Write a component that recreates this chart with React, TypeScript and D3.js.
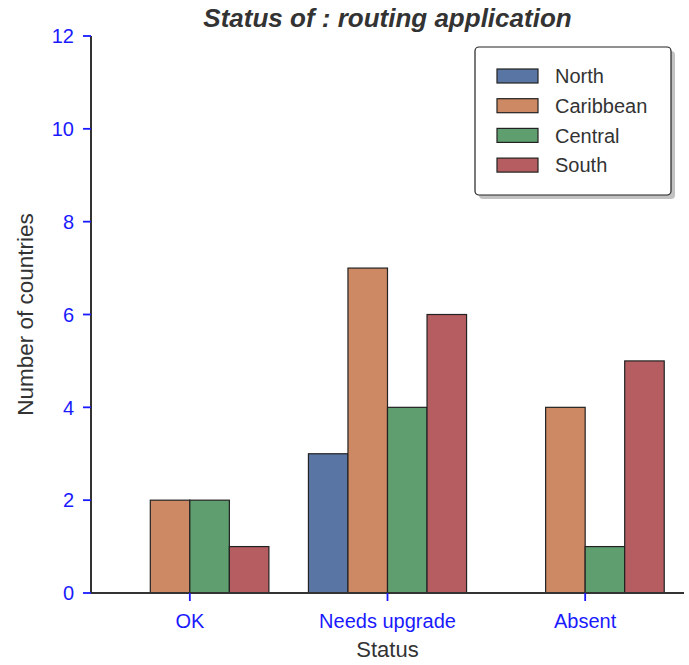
import React from "react";
import * as d3 from "d3";

const categories = ["OK", "Needs upgrade", "Absent"];
const regions = ["North", "Caribbean", "Central", "South"];
const northValues = [0, 3, 0];
const caribbeanValues = [2, 7, 4];
const centralValues = [2, 4, 1];
const southValues = [1, 6, 5];
const yTicks = [0, 2, 4, 6, 8, 10, 12];
const colors = ["#5975A4", "#CC8963", "#5F9E6E", "#B55D60"];

const seriesValues = [northValues, caribbeanValues, centralValues, southValues];

export default function App() {
  const width = 689;
  const height = 665;
  const left = 91;
  const right = 684;
  const top = 36;
  const bottom = 593;
  const font = "'Liberation Sans', Arial, sans-serif";

  const x = d3.scaleBand<string>().domain(categories).range([left, right]).paddingInner(0).paddingOuter(0);
  const inner = d3.scaleBand<string>().domain(regions).range([0, x.bandwidth() * 0.8]);
  const y = d3.scaleLinear().domain([0, 12]).range([bottom, top]);

  const bars: React.ReactNode[] = [];
  categories.forEach((c, ci) => {
    const start = (x(c) as number) + x.bandwidth() * 0.1;
    regions.forEach((r, ri) => {
      const v = seriesValues[ri][ci];
      if (!v) return;
      bars.push(
        <rect
          key={c + r}
          x={start + (inner(r) as number)}
          y={y(v)}
          width={inner.bandwidth()}
          height={y(0) - y(v)}
          fill={colors[ri]}
          stroke="#222"
          strokeWidth={1.2}
        />
      );
    });
  });

  const legX = 475;
  const legY = 47;
  const legW = 196;
  const legH = 148;

  return (
    <svg width={width} height={height} style={{ display: "block", position: "absolute", left: 0, top: 0 }}>
      <rect width={width} height={height} fill="#fff" />
      <text x={(left + right) / 2} y={27} textAnchor="middle" fontFamily={font} fontSize={26} fontWeight="bold" fontStyle="italic" fill="#333">
        Status of : routing application
      </text>
      {bars}
      {/* axes */}
      <line x1={left} x2={left} y1={top} y2={bottom} stroke="#333" strokeWidth={2} />
      <line x1={left} x2={right} y1={bottom} y2={bottom} stroke="#333" strokeWidth={2} />
      {yTicks.map((t) => (
        <g key={t}>
          <line x1={left - 8} x2={left} y1={y(t)} y2={y(t)} stroke="#1a1aff" strokeWidth={1.8} />
          <text x={74} y={y(t)} dy="0.36em" textAnchor="end" fontFamily={font} fontSize={20} fill="#1a1aff">
            {t}
          </text>
        </g>
      ))}
      {categories.map((c) => {
        const cx = (x(c) as number) + x.bandwidth() / 2;
        return (
          <g key={c}>
            <line x1={cx} x2={cx} y1={bottom} y2={bottom + 8} stroke="#1a1aff" strokeWidth={1.8} />
            <text x={cx} y={628} textAnchor="middle" fontFamily={font} fontSize={20} fill="#1a1aff">
              {c}
            </text>
          </g>
        );
      })}
      <text x={(left + right) / 2} y={657} textAnchor="middle" fontFamily={font} fontSize={22} fill="#333">
        Status
      </text>
      <text transform={`translate(33, ${(top + bottom) / 2}) rotate(-90)`} textAnchor="middle" fontFamily={font} fontSize={22.5} fill="#333">
        Number of countries
      </text>
      {/* legend */}
      <rect x={legX + 4} y={legY + 4} width={legW} height={legH} rx={4} fill="#999" opacity={0.6} />
      <rect x={legX} y={legY} width={legW} height={legH} rx={4} fill="#fff" stroke="#222" strokeWidth={1.2} />
      {regions.map((r, i) => {
        const ly = 76 + i * 29.7;
        return (
          <g key={r}>
            <rect x={497} y={ly - 7} width={41} height={14} fill={colors[i]} stroke="#222" strokeWidth={1.2} />
            <text x={555} y={ly} dy="0.36em" fontFamily={font} fontSize={20} fill="#333">
              {r}
            </text>
          </g>
        );
      })}
    </svg>
  );
}
